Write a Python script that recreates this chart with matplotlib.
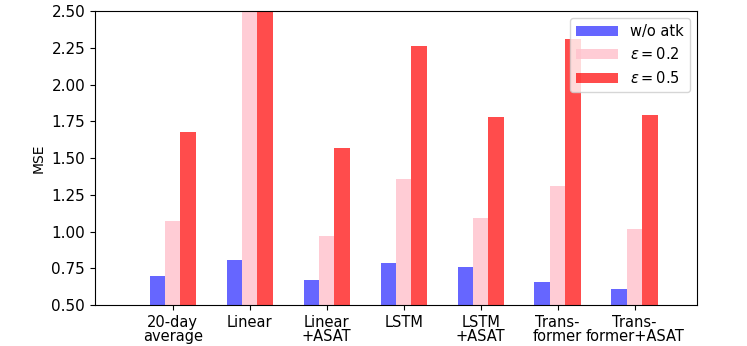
import numpy as np
import matplotlib
matplotlib.use('Agg')
import matplotlib.pyplot as plt

# MSE per model (Linear attacked bars run past the top)
models = ['20-day\naverage', 'Linear', 'Linear\n+ASAT', 'LSTM', 'LSTM\n+ASAT',
          'Trans-\nformer', 'Trans-\nformer+ASAT']
mse_clean = [0.70, 0.81, 0.67, 0.79, 0.76, 0.66, 0.61]
mse_eps02 = [1.07, 2.90, 0.97, 1.36, 1.09, 1.31, 1.02]
mse_eps05 = [1.68, 3.20, 1.57, 2.26, 1.78, 2.31, 1.79]
series_labels = ['w/o atk', r'$\epsilon=0.2$', r'$\epsilon=0.5$']

x = np.arange(len(models))
w = 0.2

fig = plt.figure(figsize=(7.47, 3.46), dpi=100)
ax = fig.add_axes([0.127, 0.118, 0.806, 0.850])

ax.bar(x - w, mse_clean, w, color='blue', alpha=0.6, label=series_labels[0])
ax.bar(x, mse_eps02, w, color='pink', alpha=0.8, label=series_labels[1])
ax.bar(x + w, mse_eps05, w, color='red', alpha=0.7, label=series_labels[2])

ax.set_ylim(0.5, 2.5)
ax.set_xlim(-1.01, 6.81)
ax.set_yticks(np.arange(0.5, 2.51, 0.25))
ax.set_xticks(x)
ax.set_xticklabels(models, fontsize=10.5, linespacing=0.9)
ax.tick_params(axis='y', labelsize=11)
ax.set_ylabel('MSE', fontsize=10)

ax.legend(loc='upper right', fontsize=10.5, handlelength=2.9)

plt.savefig('out.png', dpi=100)
